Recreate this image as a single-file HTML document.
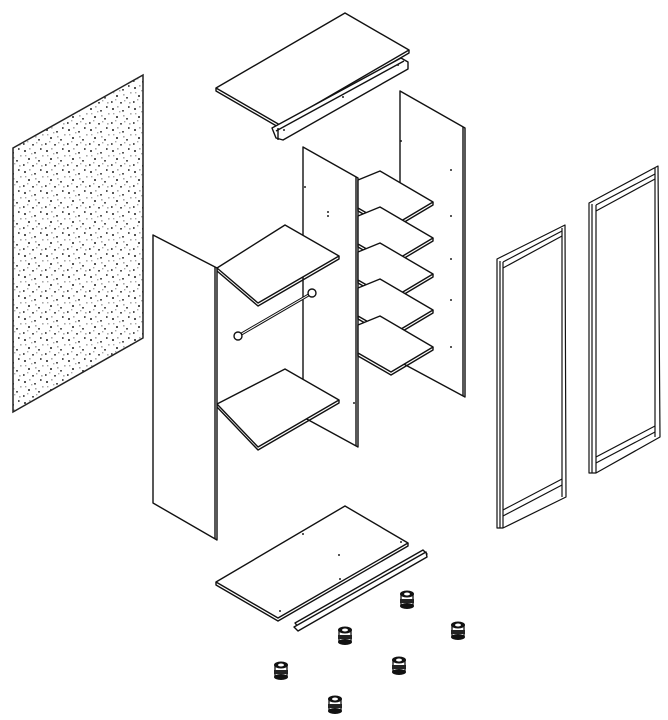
<!DOCTYPE html>
<html><head><meta charset="utf-8"><style>
html,body{margin:0;padding:0;background:#fff;}
svg{display:block;}
</style></head><body>
<svg width="668" height="720" viewBox="0 0 668 720" xmlns="http://www.w3.org/2000/svg">
<defs>
<pattern id="sp" width="22" height="21" patternUnits="userSpaceOnUse">
<g fill="#555">
<rect x="2" y="3" width="2" height="2"/><rect x="12" y="5" width="2" height="1.6"/>
<rect x="18" y="1" width="1.6" height="2"/><rect x="6" y="11" width="2" height="2"/>
<rect x="16" y="13" width="2" height="1.6"/><rect x="1" y="17" width="1.6" height="2"/>
<rect x="10" y="18" width="2" height="1.6"/>
</g>
<g fill="#aaa">
<rect x="7" y="1" width="1.6" height="1.6"/><rect x="20" y="8" width="1.6" height="1.6"/>
<rect x="3" y="8" width="1.4" height="1.4"/><rect x="13" y="10" width="1.6" height="1.6"/>
<rect x="9" y="6" width="1.4" height="1.4"/><rect x="19" y="18" width="1.6" height="1.6"/>
<rect x="5" y="15" width="1.4" height="1.4"/><rect x="14" y="16" width="1.4" height="1.4"/>
</g>
</pattern>
<g id="foot">
<rect x="-6" y="-4" width="12" height="12" fill="#fff" stroke="#111" stroke-width="1.3"/>
<ellipse cx="0" cy="8" rx="7" ry="3" fill="#111"/>
<rect x="-7" y="1" width="14" height="4" fill="#222"/>
<ellipse cx="0" cy="-4" rx="7" ry="3.5" fill="#111"/>
<ellipse cx="0" cy="-4" rx="3" ry="1.5" fill="#fff"/>
</g>
</defs>

<!-- speckled back panel -->
<polygon points="13,148 143,75 143,338 13,412" fill="url(#sp)" stroke="#222" stroke-width="1.5"/>

<g fill="#fff" stroke="#111" stroke-width="1.4" stroke-linejoin="round">
<!-- top panel + rail -->
<polygon points="216,88 345,13 409,50 280,125" />
<polyline points="216,88 216,91 280,128 409,53 409,50" fill="none"/>
<polygon points="272,128 401,58 408,62 408,69 283,140 276,138" />
<line x1="276" y1="131" x2="404" y2="61" />
<line x1="278" y1="128" x2="278" y2="140"/>

<!-- back right panel -->
<polygon points="400,91 465,128 465,397 400,362" />
<line x1="463" y1="127" x2="463" y2="396"/>

<!-- middle panel -->
<polygon points="303,147 358,178 358,447 303,417" />
<line x1="356" y1="177" x2="356" y2="446"/>

<!-- right shelves -->
<g>
<polygon points="358,180 380,171 433,202 391,227 358,208" /><polyline points="358,208 358,211 391,230 433,205 433,202" fill="none"/>
<polygon points="358,216 380,207 433,238 391,263 358,244" /><polyline points="358,244 358,247 391,266 433,241 433,238" fill="none"/>
<polygon points="358,252 380,243 433,274 391,299 358,280" /><polyline points="358,280 358,283 391,302 433,277 433,274" fill="none"/>
<polygon points="358,288 380,279 433,310 391,335 358,316" /><polyline points="358,316 358,319 391,338 433,313 433,310" fill="none"/>
<polygon points="358,325 380,316 433,347 391,372 358,353" /><polyline points="358,353 358,356 391,375 433,350 433,347" fill="none"/>
</g>

<!-- left shelves & rail -->
<polygon points="217,268 285,225 339,256 258,303" />
<polyline points="217,268 217,271 258,306 339,259 339,256" fill="none"/>
<line x1="238" y1="336" x2="312" y2="293" stroke-width="3"/>
<line x1="238" y1="336" x2="312" y2="293" stroke="#fff" stroke-width="1"/>
<circle cx="238" cy="336" r="4"/><circle cx="312" cy="293" r="4"/>
<polygon points="217,404 285,369 339,400 258,447" />
<polyline points="217,404 217,407 258,450 339,403 339,400" fill="none"/>

<!-- left side panel -->
<polygon points="153,235 217,268 217,540 153,503" />
<line x1="215" y1="267" x2="215" y2="539"/>

<!-- doors -->
<g stroke-width="1.2">
<polygon points="497,259 565,225 566,497 503,528 497,528" fill="none"/>
<line x1="503" y1="262" x2="503" y2="528"/><line x1="500" y1="261" x2="500" y2="528"/>
<line x1="562" y1="228" x2="562" y2="497"/>
<line x1="503" y1="262" x2="562" y2="231"/><line x1="503" y1="268" x2="562" y2="236"/>
<line x1="503" y1="510" x2="562" y2="479"/><line x1="503" y1="516" x2="562" y2="485"/>

<polygon points="589,203 658,166 660,437 596,473 589,473" fill="none"/>
<line x1="596" y1="205" x2="596" y2="473"/><line x1="592" y1="204" x2="592" y2="473"/>
<line x1="655" y1="168" x2="655" y2="437"/>
<line x1="596" y1="205" x2="655" y2="174"/><line x1="596" y1="211" x2="655" y2="179"/>
<line x1="596" y1="457" x2="655" y2="426"/><line x1="596" y1="463" x2="655" y2="432"/>
</g>

<!-- bottom panel + rail -->
<polygon points="216,582 345,506 408,543 278,618" />
<polyline points="216,582 216,585 278,621 408,546 408,543" fill="none"/>
<polygon points="295,623 423,550 427,554 299,628" />
<polygon points="294,627 426,552 427,557 298,631" fill="#fff"/>
</g>

<!-- holes -->
<g fill="#222">
<circle cx="401" cy="141" r="1"/><circle cx="451" cy="170" r="1"/><circle cx="451" cy="216" r="1"/><circle cx="451" cy="259" r="1"/><circle cx="451" cy="300" r="1"/><circle cx="451" cy="347" r="1"/>
<circle cx="305" cy="187" r="1"/><circle cx="328" cy="212" r="1"/><circle cx="328" cy="216" r="1"/><circle cx="354" cy="403" r="1"/>
<circle cx="343" cy="97" r="1"/><circle cx="398" cy="65" r="1"/><circle cx="284" cy="130" r="1"/>
<circle cx="303" cy="534" r="1"/><circle cx="339" cy="555" r="1"/><circle cx="340" cy="579" r="1"/><circle cx="280" cy="611" r="1"/><circle cx="401" cy="542" r="1"/>
</g>

<!-- feet -->
<use href="#foot" x="407" y="598"/>
<use href="#foot" x="345" y="634"/>
<use href="#foot" x="458" y="629"/>
<use href="#foot" x="281" y="669"/>
<use href="#foot" x="399" y="664"/>
<use href="#foot" x="335" y="703"/>
</svg>
</body></html>
